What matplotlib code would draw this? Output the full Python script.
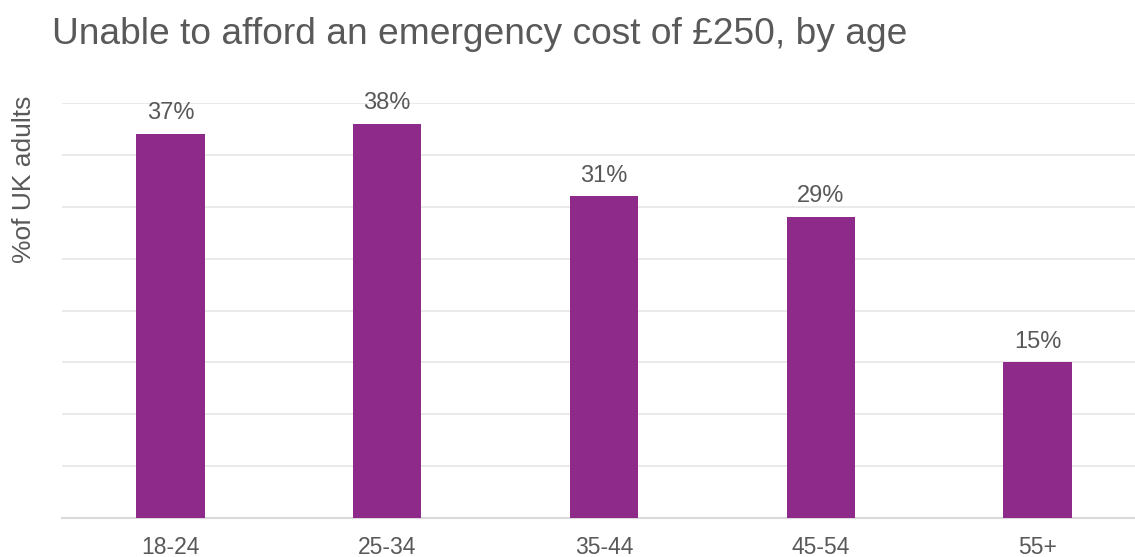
import matplotlib
matplotlib.use("Agg")
import matplotlib.pyplot as plt

plt.rcParams['font.family'] = ['Liberation Sans', 'DejaVu Sans']

age_groups = ["18-24", "25-34", "35-44", "45-54", "55+"]
pct_unable = [37, 38, 31, 29, 15]

bar_color = "#8E2A8A"
text_color = "#595959"

fig = plt.figure(figsize=(11.35, 5.57), dpi=100)
ax = fig.add_axes([62 / 1135, (557 - 518) / 557, (1135 - 62) / 1135, (518 - 103) / 557])

x = range(len(age_groups))
ax.bar(x, pct_unable, width=0.315, color=bar_color, zorder=3)

for xi, v in zip(x, pct_unable):
    ax.annotate(f"{v}%", (xi, v), xytext=(0, 7), textcoords="offset points",
                ha="center", va="bottom", fontsize=17, color=text_color)

ax.set_ylim(0, 40)
ax.set_xlim(-0.5, 4.45)
ax.set_yticks(range(0, 41, 5))
ax.yaxis.grid(True, color="#E6E6E6", linewidth=1.2, zorder=0)
ax.tick_params(axis="y", left=False, labelleft=False)
ax.tick_params(axis="x", bottom=False, labelsize=16.5, labelcolor=text_color, pad=9.5)
ax.set_xticks(list(x))
ax.set_xticklabels(age_groups)
for side in ["top", "right", "left"]:
    ax.spines[side].set_visible(False)
ax.spines["bottom"].set_color("#D9D9D9")
ax.spines["bottom"].set_linewidth(1.5)

fig.text(24 / 1135, 1 - 179 / 557, "%of UK adults", rotation=90, ha="center", va="center",
         fontsize=19, color=text_color)
fig.text(52 / 1135, 1 - 44 / 557, "Unable to afford an emergency cost of £250, by age",
         ha="left", va="baseline", fontsize=26.7, color=text_color)

fig.savefig("out.png", dpi=100)
